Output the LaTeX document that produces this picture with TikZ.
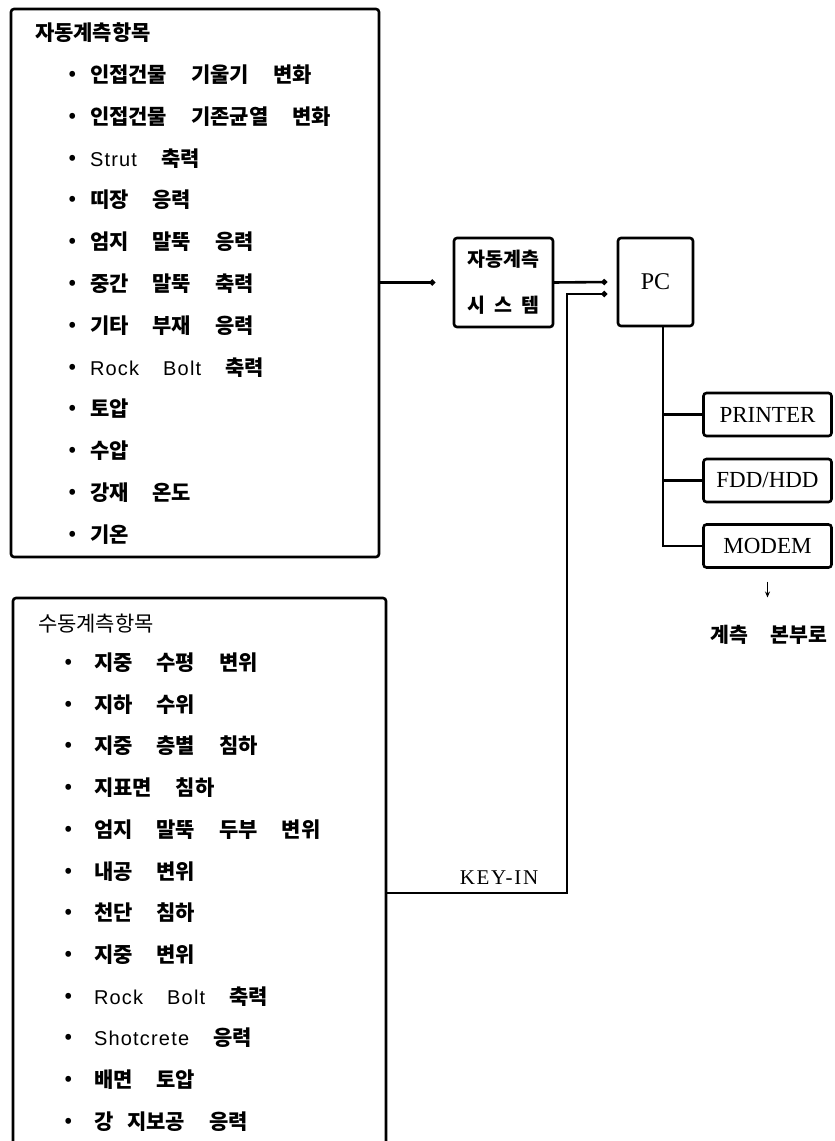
\documentclass[tikz,border=0pt]{standalone}
\usepackage{fontspec}
\newfontfamily\kr{Noto Sans CJK KR}
\newfontfamily\lat[LetterSpace=6]{Liberation Sans}
\newfontfamily\dev{Liberation Serif}
\newfontfamily\devs[LetterSpace=8]{Liberation Serif}
\usetikzlibrary{arrows.meta}
\newcommand\gp{\hspace{24pt}}
\newcommand\bl{\makebox[0pt][c]{\raisebox{-2pt}{\fontsize{27}{27}\selectfont·}}}
\newcommand\trow[3]{\node[item] (#1) at (73,{82.4+41.8*#2}) {\bl\hspace{17pt}#3};}
\newcommand\brow[3]{\node[item] (#1) at (69,{670.4+41.73*#2}) {\bl\hspace{25pt}#3};}
\begin{document}
\begin{tikzpicture}[x=1pt,y=-1pt,
  every node/.style={inner sep=0pt, outer sep=0pt},
  frame/.style={draw, line width=2.6pt, rounded corners=3pt},
  item/.style={anchor=base west, font=\kr\bfseries\fontsize{21}{22}\selectfont},
  conn/.style={line width=2.6pt},
  arr/.style={conn, -{Circle[length=5.5pt]}},
  devbox/.style={frame, minimum width=128pt, minimum height=43pt, font=\dev\fontsize{23}{23}\selectfont},
]
\useasboundingbox (0,0) rectangle (835,1141);

% frames
\node[frame, anchor=north west, minimum width=368pt, minimum height=548pt] (auto) at (11,9) {};
\node[anchor=north west, minimum width=373pt, minimum height=543pt] (man) at (13,598) {};
\draw[conn, rounded corners=3pt] (man.south west) -- (man.north west) -- (man.north east) -- (man.south east);

% top list
\node[item] (ta) at (35,40) {자동계측항목};
\trow{a1}{0}{인접건물\gp 기울기\gp 변화}
\trow{a2}{1}{인접건물\gp 기존균열\gp 변화}
\trow{a3}{2}{{\lat\mdseries\fontsize{20}{22}\selectfont Strut}\gp 축력}
\trow{a4}{3}{띠장\gp 응력}
\trow{a5}{4}{엄지\gp 말뚝\gp 응력}
\trow{a6}{5}{중간\gp 말뚝\gp 축력}
\trow{a7}{6}{기타\gp 부재\gp 응력}
\trow{a8}{7}{{\lat\mdseries\fontsize{20}{22}\selectfont Rock\gp Bolt}\gp 축력}
\trow{a9}{8}{토압}
\trow{a10}{9}{수압}
\trow{a11}{10}{강재\gp 온도}
\trow{a12}{11}{기온}

% bottom list
\node[item, font=\kr\mdseries\fontsize{21}{22}\selectfont] (tb) at (38,631) {수동계측항목};
\brow{b1}{0}{지중\gp 수평\gp 변위}
\brow{b2}{1}{지하\gp 수위}
\brow{b3}{2}{지중\gp 층별\gp 침하}
\brow{b4}{3}{지표면\gp 침하}
\brow{b5}{4}{엄지\gp 말뚝\gp 두부\gp 변위}
\brow{b6}{5}{내공\gp 변위}
\brow{b7}{6}{천단\gp 침하}
\brow{b8}{7}{지중\gp 변위}
\brow{b9}{8}{{\lat\mdseries\fontsize{20}{22}\selectfont Rock\gp Bolt}\gp 축력}
\brow{b10}{9}{{\lat\mdseries\fontsize{20}{22}\selectfont Shotcrete}\gp 응력}
\brow{b11}{10}{배면\gp 토압}
\brow{b12}{11}{강\hspace{14pt}지보공\gp 응력}

% system and PC
\node[frame, minimum width=99pt, minimum height=89pt, align=center,
      font=\kr\bfseries\fontsize{19.5}{46}\selectfont] (sys) at (503.5,282.5)
      {자동계측\\시\hspace{9pt}스\hspace{9pt}템};
\node[frame, minimum width=75pt, minimum height=88pt, font=\dev\fontsize{24}{24}\selectfont] (pc) at (655.5,282) {PC};

\node[devbox] (printer) at (767.5,414.5) {PRINTER};
\node[devbox] (fdd) at (767.5,480.5) {FDD/HDD};
\node[devbox] (modem) at (767.5,546) {MODEM};

\node[font=\kr\bfseries\fontsize{20.5}{22}\selectfont] (dest) at (769,635) {계측\hspace{22pt}본부로};
\node[font=\devs\fontsize{21}{21}\selectfont] (keyin) at (499,878) {KEY-IN};

% connectors
\draw[arr] (auto.east |- sys.west) -- ([xshift=-19pt]sys.west);
\draw[arr] (sys.east) -- ([xshift=-11pt]pc.west);
\coordinate (kend) at (607,294);
\draw[arr] (man.east |- 0,893) -| (567,294) -- (kend);

\draw[conn] (pc.south -| 663,0) |- (modem.west);
\draw[conn] (printer.west) -- (printer.west -| 663,0);
\draw[conn] (fdd.west) -- (fdd.west -| 663,0);
\draw[line width=1.6pt, -{Stealth[length=6pt,width=5pt]}] ([yshift=-14pt]modem.south) -- ([yshift=-30pt]modem.south);
\end{tikzpicture}
\end{document}
